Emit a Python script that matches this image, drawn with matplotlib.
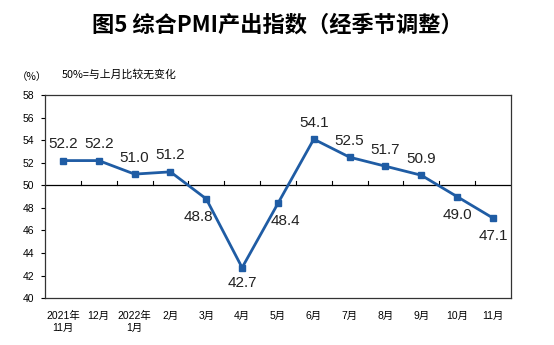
import matplotlib.pyplot as plt
import numpy as np

plt.rcParams['font.family'] = ['Liberation Sans', 'Noto Sans CJK SC', 'DejaVu Sans']

# data
months = ["2021年\n11月", "12月", "2022年\n1月", "2月", "3月", "4月", "5月",
          "6月", "7月", "8月", "9月", "10月", "11月"]
values = [52.2, 52.2, 51.0, 51.2, 48.8, 42.7, 48.4, 54.1, 52.5, 51.7, 50.9, 49.0, 47.1]
label_pos = ["up", "up", "up", "up", "down", "down", "down",
             "up", "up", "up", "up", "down", "down"]

fig = plt.figure(figsize=(5.54, 3.45), dpi=100)
ax = fig.add_axes([0.0812, 0.136, 0.841, 0.588])

x = np.arange(len(values))
color = "#1F5CA4"
ax.plot(x, values, color=color, lw=2, marker="s", ms=5, zorder=3)

# label offsets in pixels (dx, dy)
offsets = {4: (-8, -18), 5: (0, -15.5), 6: (7, -18)}
for xi, v, p in zip(x, values, label_pos):
    dx, dy = offsets.get(xi, (0, 16.5 if p == "up" else -18))
    ax.annotate(f"{v:.1f}", (xi, v), xytext=(dx * 0.72, dy * 0.72),
                textcoords="offset points", ha="center", va="center",
                fontsize=11, color="#222222")

ax.set_xlim(-0.5, len(values) - 0.5)
ax.set_ylim(40, 58)
ax.set_yticks(range(40, 59, 2))
ax.tick_params(axis="y", labelsize=7.5, length=3, width=0.8, direction="out", pad=4.5)
for t in ax.get_yticklabels():
    t.set_family(["Liberation Sans Narrow", "Liberation Sans"])

# 50 line with category boundary ticks
ax.axhline(50, color="black", lw=0.9, zorder=2)
for b in np.arange(0.5, len(values) - 1, 1.0):
    ax.plot([b, b], [50, 50.35], color="black", lw=0.8, zorder=2)

ax.set_xticks(x)
ax.set_xticklabels(months, fontsize=7.5, linespacing=1.25)
ax.tick_params(axis="x", length=0, pad=9)

for s in ax.spines.values():
    s.set_linewidth(0.9)
    s.set_color("#333333")

fig.text(0.5, 0.928, "图5 综合PMI产出指数（经季节调整）", ha="center", va="center",
         fontsize=16, fontweight="bold", family=["Noto Sans CJK SC", "DejaVu Sans"])
fig.text(0.031, 0.777, "（%）", ha="left", va="center", fontsize=7.5,
         family=["Noto Sans CJK SC", "DejaVu Sans"])
fig.text(0.112, 0.783, "50%=与上月比较无变化", ha="left", va="center", fontsize=7.8,
         family=["Noto Sans CJK SC", "DejaVu Sans"])

fig.savefig("out.png", dpi=100)
